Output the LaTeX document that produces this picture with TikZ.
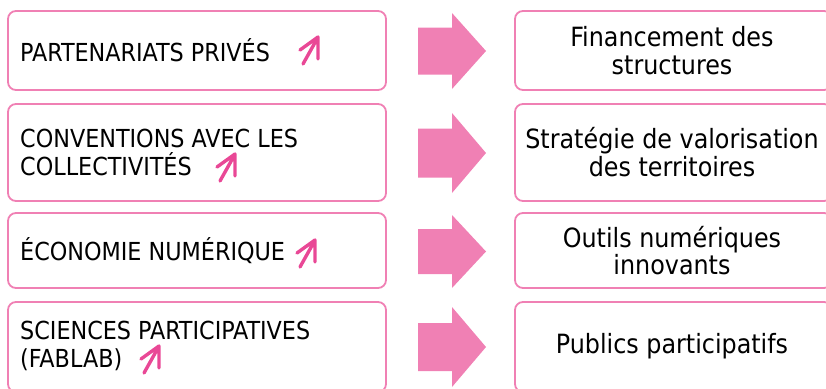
\documentclass[tikz,border=0pt]{standalone}
\usepackage{fontspec}
\setmainfont{DejaVu Sans Condensed}
\definecolor{boxpink}{RGB}{240,128,180}
\definecolor{tickpink}{RGB}{233,72,150}

\begin{document}
\begin{tikzpicture}[x=1pt,y=1pt,yscale=-1,xscale=1,
  box/.style={draw=boxpink,line width=1.8pt,rounded corners=8pt},
  bigarrow/.style={fill=boxpink,draw=none},
  uptick/.style={draw=tickpink,line width=3.4pt,line cap=round,line join=round},
  lefttext/.style={anchor=west,inner sep=0pt,align=left,font=\fontsize{24.8}{28}\selectfont},
  righttext/.style={inner sep=0pt,align=center,font=\fontsize{26.5}{27.5}\selectfont}]
\useasboundingbox (0,0) rectangle (826,388);

%Rounded Rect, left column
\draw [box] (8,11) rectangle (386,90) ;
\draw [box] (8,104) rectangle (386,201) ;
\draw [box] (8,213) rectangle (386,288) ;
\draw [box] (8,302) rectangle (386,392) ;
%Rounded Rect, right column
\draw [box] (515,11) rectangle (832,90) ;
\draw [box] (515,104) rectangle (832,201) ;
\draw [box] (515,213) rectangle (832,288) ;
\draw [box] (515,302) rectangle (832,392) ;

%Right Arrows
\draw [bigarrow] (418,27.5) -- (452,27.5) -- (452,13) -- (486,51) -- (452,89) -- (452,74.5) -- (418,74.5) -- cycle ;
\draw [bigarrow] (418,128.5) -- (452,128.5) -- (452,113) -- (486,153) -- (452,193) -- (452,177.5) -- (418,177.5) -- cycle ;
\draw [bigarrow] (418,229) -- (452,229) -- (452,215) -- (486,251.5) -- (452,288) -- (452,274) -- (418,274) -- cycle ;
\draw [bigarrow] (418,323) -- (452,323) -- (452,307) -- (486,347) -- (452,387) -- (452,371) -- (418,371) -- cycle ;

% Text Node
\draw (20,50.5) node (prive) [lefttext] {PARTENARIATS PRIVÉS};
% Text Node
\draw (20,152) node (convention) [lefttext] {CONVENTIONS AVEC LES\\COLLECTIVITÉS};
% Text Node
\draw (20,250.5) node (numerique) [lefttext] {ÉCONOMIE NUMÉRIQUE};
% Text Node
\draw (20,346) node (sciences) [lefttext] {SCIENCES PARTICIPATIVES\\(FABLAB)};

% Text Node
\draw (672,50.5) node (financement) [righttext] {Financement des\\structures};
% Text Node
\draw (672,152) node (strategie) [righttext] {Stratégie de valorisation\\des territoires};
% Text Node
\draw (672,250.5) node (outils) [righttext] {Outils numériques\\innovants};
% Text Node
\draw (672,346) node (publics) [righttext] {Publics participatifs};

%Small up arrows
\draw [uptick] (303,64) -- (317,39) (300,50) -- (318,37) -- (318,59) ;
\draw [uptick] (220,181) -- (234,156) (217,167) -- (235,154) -- (235,176) ;
\draw [uptick] (300,267) -- (314,242) (297,253) -- (315,240) -- (315,262) ;
\draw [uptick] (144,373) -- (158,348) (141,359) -- (159,346) -- (159,368) ;

\end{tikzpicture}
\end{document}
